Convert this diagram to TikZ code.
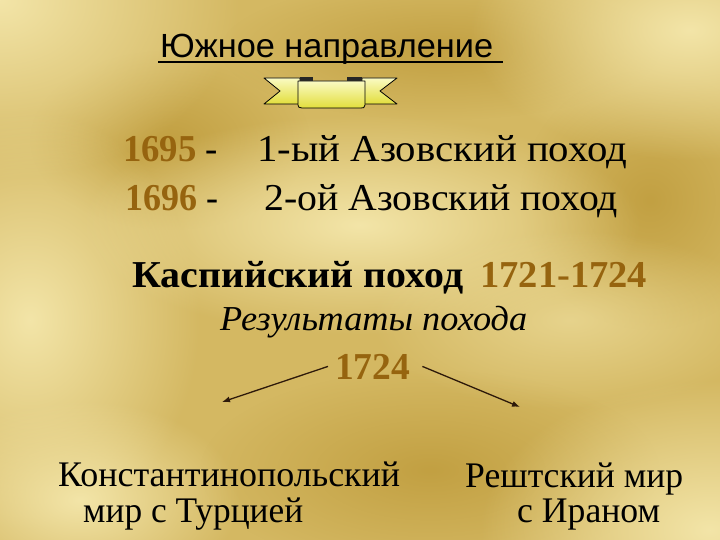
\documentclass[tikz,border=0pt]{standalone}
\usepackage{fontspec}
\setmainfont{Liberation Serif}
\newfontfamily\arialf{Liberation Sans}
\usetikzlibrary{fadings,calc,arrows.meta}
\tikzfading[name=blobfade, inner color=transparent!0, outer color=transparent!100]
\definecolor{bgbase}{RGB}{212,184,98}
\definecolor{bglight}{RGB}{243,229,168}
\definecolor{bgdark}{RGB}{194,160,66}
\definecolor{yearbrown}{RGB}{150,100,15}
\definecolor{arrowdark}{RGB}{45,25,10}
\definecolor{ribbonA}{RGB}{250,250,195}
\definecolor{ribbonB}{RGB}{226,222,60}
\newcommand\fitto[2]{\resizebox{#1}{\height}{#2}}
\begin{document}
\begin{tikzpicture}[x=1pt,y=-1pt,
  txt/.style={inner sep=0pt,anchor=base west},
  conn/.style={draw=arrowdark,line width=1.3pt,-{Latex[length=8pt,width=6pt]}},
  glow/.style={fill=bglight,path fading=blobfade},
  shadowblob/.style={fill=bgdark,path fading=blobfade},
  ribbonpart/.style={top color=ribbonA,bottom color=ribbonB,draw=black,line width=0.8pt,line join=round}]
\useasboundingbox (0,0) rectangle (720,540);
% background
\fill[bgbase] (0,0) rectangle (720,540);
\fill[shadowblob] (440,50) ellipse (220 and 70);
\fill[shadowblob] (170,140) ellipse (140 and 90);
\fill[shadowblob] (430,470) ellipse (230 and 100);
\fill[shadowblob] (650,200) ellipse (130 and 130);
\fill[glow] (0,0) ellipse (240 and 180);
\fill[glow] (690,30) ellipse (220 and 130);
\fill[glow] (30,320) ellipse (170 and 210);
\fill[glow] (360,225) ellipse (280 and 110);
\fill[glow] (710,530) ellipse (230 and 150);
\fill[glow] (80,500) ellipse (160 and 100);
\fill[glow, opacity=0.6] (570,320) ellipse (200 and 90);
% ribbon
\shade[ribbonpart] (264,78) -- (300,78) -- (300,104) -- (264,104) -- (280,91) -- cycle;
\shade[ribbonpart] (397,78) -- (362,78) -- (362,104) -- (397,104) -- (380,91) -- cycle;
\fill[black!85] (300,77) rectangle (313,81);
\fill[black!85] (347,77) rectangle (362,81);
\shade[ribbonpart] (298,81) -- (365,81) -- (365,105) .. controls (365,108) and (363,108) .. (361,108)
  -- (302,108) .. controls (299,108) and (298,107) .. (298,105) -- cycle;
% title
\node[txt] (title) at (160,58) {\arialf\fontsize{33.5}{40}\selectfont\fitto{333pt}{Южное направление}};
\draw[line width=2pt] ($(title.base west)+(-2,4)$) -- ($(title.base east)+(10,4)$);
% Azov campaigns
\node[txt] (y1695) at (123,162) {\fontsize{38}{44}\selectfont\fitto{95pt}{\textcolor{yearbrown}{\bfseries 1695} -}};
\node[txt] (az1) at (257,162) {\fontsize{38}{44}\selectfont\fitto{370pt}{1-ый Азовский поход}};
\node[txt] (y1696) at (125,211) {\fontsize{38}{44}\selectfont\fitto{93pt}{\textcolor{yearbrown}{\bfseries 1696} -}};
\node[txt] (az2) at (264,211) {\fontsize{38}{44}\selectfont\fitto{354pt}{2-ой Азовский поход}};
% Caspian
\node[txt] (casp) at (132,287) {\fontsize{38}{44}\selectfont\bfseries\fitto{331pt}{Каспийский поход}};
\node[txt] (caspy) at (480,287) {\fontsize{38}{44}\selectfont\bfseries\color{yearbrown}\fitto{167pt}{1721-1724}};
\node[txt] (res) at (220,330) {\fontsize{35}{40}\selectfont\itshape\fitto{307pt}{Результаты похода}};
\node[txt] (n1724) at (335,379) {\fontsize{38}{44}\selectfont\bfseries\color{yearbrown}\fitto{75pt}{1724}};
% results
\node[txt] (konst1) at (58,486) {\fontsize{36}{42}\selectfont\fitto{342pt}{Константинопольский}};
\node[txt] (konst2) at (83,522) {\fontsize{36}{42}\selectfont\fitto{220pt}{мир с Турцией}};
\node[txt] (resht1) at (465,487) {\fontsize{36}{42}\selectfont\fitto{218pt}{Рештский мир}};
\node[txt] (resht2) at (517,522) {\fontsize{36}{42}\selectfont\fitto{143pt}{с Ираном}};
% arrows
\coordinate (la) at (222,402);
\coordinate (ra) at (520,407);
\draw[conn] ([xshift=-7pt]n1724.west) -- (la);
\draw[conn] ([xshift=12pt]n1724.east) -- (ra);
\end{tikzpicture}
\end{document}
